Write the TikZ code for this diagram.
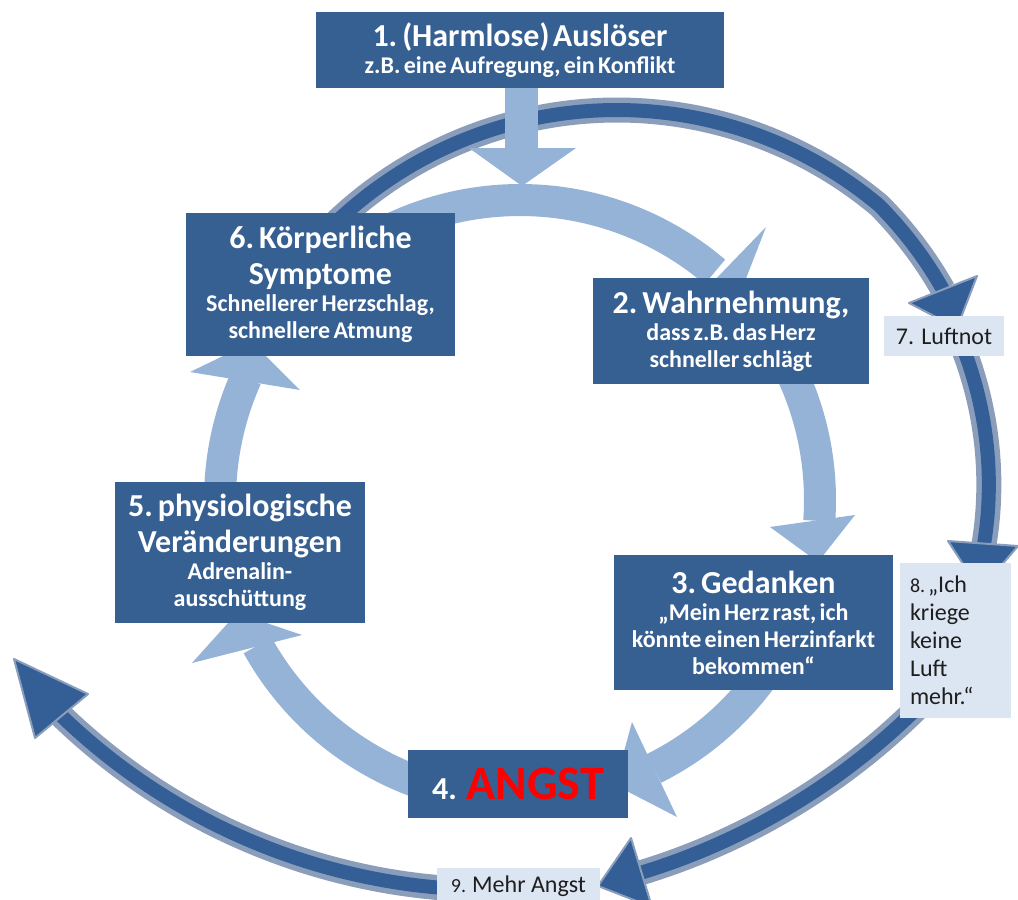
\documentclass[tikz,border=0pt]{standalone}
\usepackage{fontspec}
\setmainfont{Carlito}
\usetikzlibrary{calc}
\definecolor{boxblue}{RGB}{55,96,146}
\definecolor{lightarrow}{RGB}{149,179,215}
\definecolor{darkcore}{RGB}{52,94,150}
\definecolor{halo}{RGB}{138,158,188}
\definecolor{paleblue}{RGB}{220,230,242}
\definecolor{angstred}{RGB}{255,0,0}
\definecolor{txtdark}{RGB}{30,30,30}
\newcommand{\tsz}{\fontsize{32}{36}\selectfont}
\newcommand{\ssz}{\fontsize{24}{27}\selectfont}
\begin{document}
\begin{tikzpicture}[x=1pt,y=-1pt,
  darkbox/.style={fill=boxblue, text=white, font=\bfseries, align=center, inner sep=0pt},
  palebox/.style={fill=paleblue, text=txtdark, inner sep=0pt},
  lightband/.style={draw=lightarrow, line width=32pt},
  lighthead/.style={fill=lightarrow},
  haloband/.style={draw=halo, line width=25pt},
  coreband/.style={draw=darkcore, line width=14pt},
  darkhead/.style={fill=darkcore, draw=halo, line width=2pt, line join=round}]

\useasboundingbox (0,0) rectangle (1018,900);
\fill[white] (0,0) rectangle (1018,900);

% ---------- outer dark cycle ----------
\coordinate (O1) at (617,518);
\coordinate (O3) at (445,230);
\coordinate (O4) at (492.6,269);
% 6 -> 7
\foreach \sty in {haloband,coreband}
  \draw[\sty] plot[domain=-138:-35, samples=70, smooth]
    ({617+(408-max(0,\x+50)*0.667)*cos(\x)},{518+(408-max(0,\x+50)*0.667)*sin(\x)});
\filldraw[darkhead] (909,303) -- (977,276) -- (957,328) -- cycle;
% 7 -> 8
\foreach \sty in {haloband,coreband}
  \draw[\sty] plot[domain=-28:4, samples=40, smooth]
    ({617+(385-(\x+25)*0.586)*cos(\x)},{518+(385-(\x+25)*0.586)*sin(\x)});
\filldraw[darkhead] (948,541) -- (1018,546) -- (980,590) -- cycle;
% 8 -> 9
\foreach \sty in {haloband,coreband}
  \draw[\sty] plot[domain=44.5:73, samples=40, smooth] ({445+672*cos(\x)},{230+672*sin(\x)});
\filldraw[darkhead] (631,838) -- (652,907) -- (598,886) -- cycle;
% 9 -> out
\foreach \sty in {haloband,coreband}
  \draw[\sty] plot[domain=90:134, samples=50, smooth] ({492.6+621*cos(\x)},{269+621*sin(\x)});
\filldraw[darkhead] (35,738) -- (88,694) -- (14,659) -- cycle;

% ---------- trigger arrow ----------
\fill[lightarrow] (505,85) rectangle (538,149);
\fill[lightarrow] (469,148) -- (576,148) -- (522,186) -- cycle;

% ---------- inner light cycle ----------
\coordinate (C) at (520,500);
% 6 -> 2
\draw[lightband] plot[domain=-120:-49.5, samples=40, smooth] ({520+300*cos(\x)},{500+300*sin(\x)});
\fill[lighthead] (766,227) -- (681,315) -- (733,312) -- cycle;
% 2 -> 3
\draw[lightband] plot[domain=-25:4, samples=20, smooth] ({520+300*cos(\x)},{500+300*sin(\x)});
\fill[lighthead] (770,527) -- (855,515) -- (818,562) -- cycle;
% 3 -> 4
\draw[lightband] plot[domain=35:63.5, samples=20, smooth] ({520+300*cos(\x)},{500+300*sin(\x)});
\fill[lighthead] (632,722) -- (677,817) -- (615,785) -- cycle;
% 4 -> 5
\draw[lightband] plot[domain=105:151, samples=30, smooth] ({520+300*cos(\x)},{500+300*sin(\x)});
\fill[lighthead] (192,663) -- (302,635) -- (237,613) -- cycle;
% 5 -> 6
\draw[lightband] plot[domain=175:204, samples=20, smooth] ({520+300*cos(\x)},{500+300*sin(\x)});
\fill[lighthead] (190,372) -- (300,390) -- (252,342) -- cycle;

% ---------- boxes ----------
\node[darkbox, minimum width=408pt, minimum height=76pt, text width=400pt] (b1) at (520,50)
  {{\tsz 1. (Harmlose) Auslöser\par}{\ssz z.B. eine Aufregung, ein Konflikt\par}};
\node[darkbox, minimum width=269pt, minimum height=143pt, text width=262pt] (b6) at (320.5,284.5)
  {{\tsz 6. Körperliche\par Symptome\par}{\ssz Schnellerer Herzschlag,\par schnellere Atmung\par}};
\node[darkbox, minimum width=276pt, minimum height=106pt, text width=268pt] (b2) at (731,331)
  {{\tsz 2. Wahrnehmung,\par}{\ssz dass z.B. das Herz\par schneller schlägt\par}};
\node[darkbox, minimum width=279pt, minimum height=135pt, text width=272pt] (b3) at (753.5,622.5)
  {{\tsz 3. Gedanken\par}{\ssz „Mein Herz rast, ich\par könnte einen Herzinfarkt\par bekommen“\par}};
\node[darkbox, minimum width=250pt, minimum height=141pt, text width=244pt] (b5) at (240,552.5)
  {{\tsz 5. physiologische\par Veränderungen\par}{\ssz Adrenalin-\par ausschüttung\par}};
\node[darkbox, minimum width=220pt, minimum height=68pt] (b4) at (518,784)
  {{\tsz 4. }{\fontsize{48}{50}\selectfont\textcolor{angstred}{ANGST}}};
\node[palebox, minimum width=120pt, minimum height=40pt, font=\fontsize{24}{28}\selectfont] (b7) at (944,336)
  {7. Luftnot};
\node[palebox, minimum width=111pt, minimum height=155pt, text width=91pt, align=left,
      font=\fontsize{24}{28}\selectfont] (b8) at (955.5,640.5)
  {{\fontsize{20}{28}\selectfont 8.}\hspace{3pt}„Ich\\kriege\\keine\\Luft\\mehr.“};
\node[palebox, minimum width=163pt, minimum height=36pt, font=\fontsize{24}{28}\selectfont] (b9) at (518.5,886)
  {{\fontsize{20}{28}\selectfont 9. }Mehr Angst};
\end{tikzpicture}
\end{document}
